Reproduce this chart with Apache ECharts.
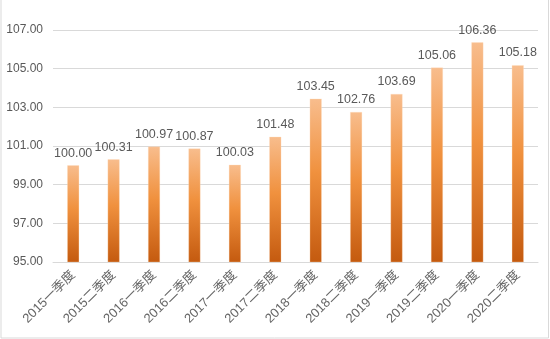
<!DOCTYPE html>
<html>
<head>
<meta charset="utf-8">
<script src="https://cdn.jsdelivr.net/npm/echarts@6/dist/echarts.min.js"></script>
<style>
  html, body { margin: 0; padding: 0; background: #fff; }
  #chart { width: 550px; height: 339px; }
</style>
</head>
<body>
<div id="chart"></div>
<script>
// Quarterly index values
const categories = [
  '2015一季度', '2015二季度', '2016一季度', '2016二季度',
  '2017一季度', '2017二季度', '2018一季度', '2018二季度',
  '2019一季度', '2019二季度', '2020一季度', '2020二季度'
];
const values = [100.00, 100.31, 100.97, 100.87, 100.03, 101.48, 103.45, 102.76, 103.69, 105.06, 106.36, 105.18];
const yMin = 95;
const yMax = 107;
const yStep = 2;

const font = '"Liberation Sans", "Noto Sans CJK SC", sans-serif';
const textColor = '#595959';

const chart = echarts.init(document.getElementById('chart'));
chart.setOption({
  animation: false,
  grid: { left: 53, right: 12, top: 30, bottom: 77, containLabel: false },
  xAxis: {
    type: 'category',
    data: categories,
    axisLine: { lineStyle: { color: '#d9d9d9', width: 1 } },
    axisTick: { show: false },
    axisLabel: {
      rotate: 45,
      interval: 0,
      color: '#666',
      fontFamily: font,
      fontSize: 13,
      margin: 11
    }
  },
  yAxis: {
    type: 'value',
    min: yMin,
    max: yMax,
    interval: yStep,
    axisLine: { show: false },
    axisTick: { show: false },
    splitLine: { lineStyle: { color: '#d9d9d9', width: 1 } },
    axisLabel: {
      color: textColor,
      fontFamily: font,
      fontSize: 12,
      margin: 10,
      formatter: v => v.toFixed(2)
    }
  },
  series: [{
    type: 'bar',
    data: values,
    barWidth: 12,
    itemStyle: {
      color: new echarts.graphic.LinearGradient(0, 0, 0, 1, [
        { offset: 0, color: '#f8bd8d' },
        { offset: 0.45, color: '#f0913e' },
        { offset: 1, color: '#c45a0f' }
      ]),
      borderColor: 'rgba(255,220,190,0.6)',
      borderWidth: 0.5
    },
    label: {
      show: true,
      position: 'top',
      distance: 6,
      color: textColor,
      fontFamily: font,
      fontSize: 12.5,
      formatter: p => p.value.toFixed(2)
    }
  }],
  graphic: [
    { type: 'polyline', shape: { points: [[1, 0], [1, 338], [548.5, 338], [548.5, 0]] },
      style: { stroke: '#d9d9d9', lineWidth: 1, fill: null }, silent: true }
  ]
});
</script>
</body>
</html>
